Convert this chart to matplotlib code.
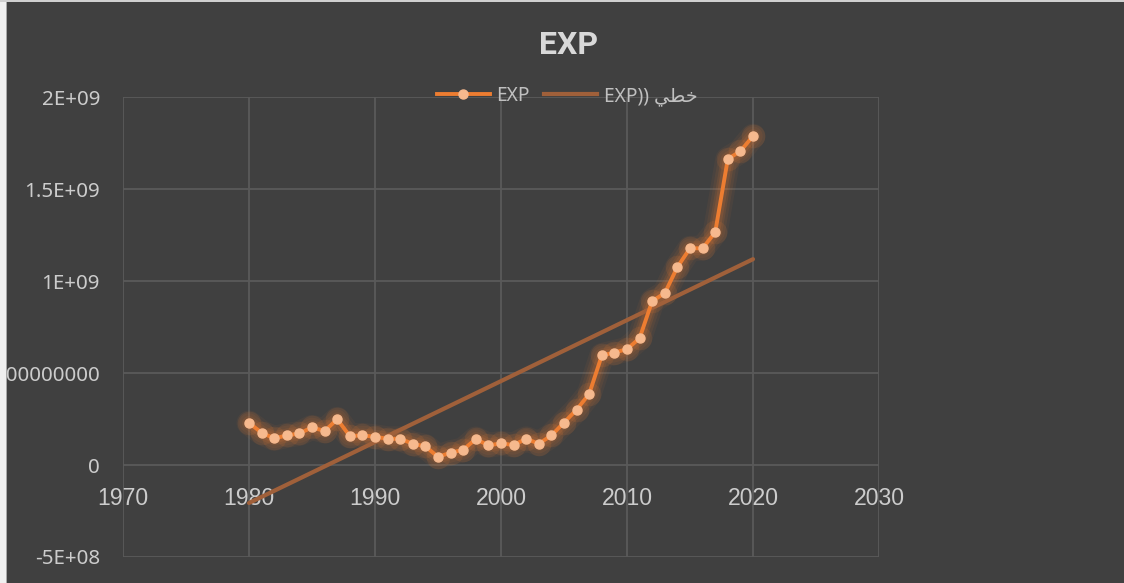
import numpy as np
import matplotlib
matplotlib.use("Agg")
import matplotlib.pyplot as plt
from matplotlib.lines import Line2D
from matplotlib.patches import Rectangle
from matplotlib.font_manager import FontProperties

# ---- data ----
years = list(range(1980, 2021))
exp_values = [
    2.29e8, 1.76e8, 1.45e8, 1.61e8, 1.72e8, 2.05e8, 1.85e8, 2.49e8, 1.58e8, 1.61e8,
    1.54e8, 1.43e8, 1.43e8, 1.16e8, 1.01e8, 0.45e8, 0.67e8, 0.83e8, 1.42e8, 1.07e8,
    1.18e8, 1.09e8, 1.43e8, 1.16e8, 1.61e8, 2.31e8, 3.01e8, 3.87e8, 5.96e8, 6.12e8,
    6.30e8, 6.90e8, 8.92e8, 9.35e8, 10.77e8, 11.79e8, 11.79e8, 12.66e8, 16.64e8, 17.07e8,
    17.89e8,
]
x_ticks = [1970, 1980, 1990, 2000, 2010, 2020, 2030]
y_ticks = [-5e8, 0, 5e8, 1e9, 1.5e9, 2e9]
y_tick_labels = ["-5E+08", "0", "500000000", "1E+09", "1.5E+09", "2E+09"]
title_text = "EXP"
series_label = "EXP"
trend_label = "EXP)) \uFEF2\uFEC4\uFEA7"  # خطي (EXP) as displayed

# ---- style ----
BG = "#404040"
GRID = "#5a5a5a"
ORANGE = "#ED7D31"
MARKER = "#F6B98E"
TREND = "#A0603A"
TICK_COLOR = "#cccccc"

W, H = 1124, 583
fig = plt.figure(figsize=(W / 100, H / 100), dpi=100)
fig.patch.set_facecolor(BG)

left, right = 123 / W, 879 / W
top, bottom = 1 - 97.3 / H, 1 - 557 / H
ax = fig.add_axes([left, bottom, right - left, top - bottom])
ax.set_facecolor(BG)

ax.set_xlim(1970, 2030)
ax.set_ylim(-5e8, 2e9)
ax.set_xticks(x_ticks)
ax.set_xticklabels([str(t) for t in x_ticks])
ax.set_yticks(y_ticks)
ax.set_yticklabels(y_tick_labels)

ax.grid(True, color=GRID, linewidth=1.3, zorder=0)
ax.set_axisbelow(True)
for s in ["top", "right", "left"]:
    ax.spines[s].set_visible(False)
ax.spines["bottom"].set_position(("data", 0))
ax.spines["bottom"].set_visible(False)

ax.tick_params(axis="both", length=0)
ax.tick_params(axis="x", pad=15.5, colors=TICK_COLOR)
ax.tick_params(axis="y", pad=16.5, colors=TICK_COLOR)
for lbl in ax.get_xticklabels():
    lbl.set_fontfamily("Liberation Sans")
    lbl.set_fontsize(16.6)
for lbl in ax.get_yticklabels():
    lbl.set_fontfamily("Noto Sans")
    lbl.set_fontsize(14.8)

# glow
for lw, a in [(18, 0.06), (14, 0.08), (10, 0.11), (7, 0.14)]:
    ax.plot(years, exp_values, color=ORANGE, linewidth=lw, alpha=a,
            solid_capstyle="round", solid_joinstyle="round", zorder=2)
ax.plot(years, exp_values, linestyle="none", marker="o", markersize=17,
        color=ORANGE, alpha=0.12, markeredgewidth=0, zorder=2)

# trend line (linear fit)
coef = np.polyfit(years, exp_values, 1)
tx = np.array([years[0], years[-1]])
ax.plot(tx, np.polyval(coef, tx), color=TREND, linewidth=3.0,
        solid_capstyle="round", zorder=3)

# main series
ax.plot(years, exp_values, color=ORANGE, linewidth=2.8, marker="o",
        markersize=6.5, markerfacecolor=MARKER, markeredgecolor=MARKER,
        solid_joinstyle="round", zorder=4)

# title
fig.text(569 / W, 1 - 45 / H, title_text, ha="center", va="center",
         fontsize=23, fontweight="bold", color="#d9d9d9", family="Roboto")

# legend
h1 = Line2D([], [], color=ORANGE, linewidth=2.8, marker="o", markersize=6.5,
            markerfacecolor=MARKER, markeredgecolor=MARKER)
h2 = Line2D([], [], color=TREND, linewidth=3.0)
fig.legend([h1, h2], [series_label, trend_label], loc="center",
           bbox_to_anchor=(567 / W, 1 - 96 / H), ncol=2, frameon=False,
           prop=FontProperties(family=["Noto Sans", "DejaVu Sans"], size=13.8),
           labelcolor="#c0c0c0", handlelength=2.75, handletextpad=0.35,
           columnspacing=0.75, borderpad=0)

# frame border
fig.add_artist(Rectangle((0, 0), 6 / W, 1, transform=fig.transFigure,
                         facecolor="#f0f0f0", edgecolor="none", zorder=10))
fig.add_artist(Rectangle((6 / W, 0), 1 / W, 1, transform=fig.transFigure,
                         facecolor="#a8a8a8", edgecolor="none", zorder=10))
fig.add_artist(Rectangle((0, 1 - 2 / H), 1, 2 / H, transform=fig.transFigure,
                         facecolor="#d0d0d0", edgecolor="none", zorder=10))

fig.savefig("out.png", dpi=100, facecolor=BG)
